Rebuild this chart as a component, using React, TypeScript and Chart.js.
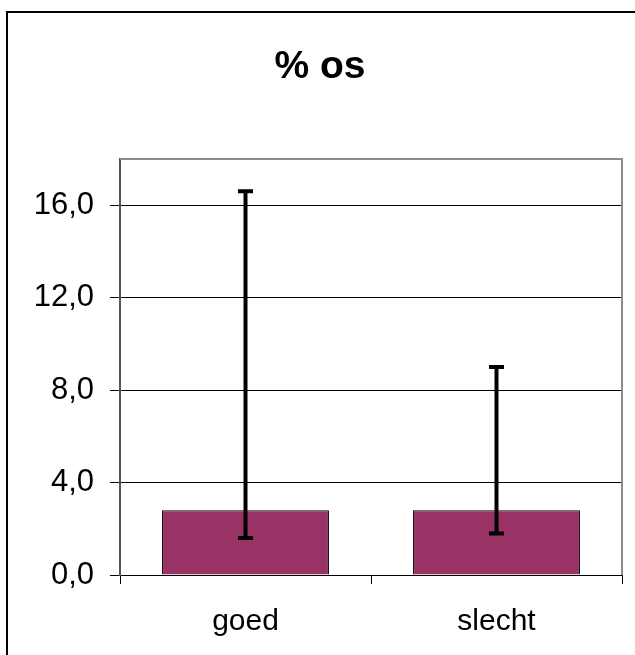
import React, { useEffect, useRef } from "react";
import { Chart, registerables } from "chart.js";

Chart.register(...registerables);

const title = "% os";
const categories = ["goed", "slecht"];
const values = [2.8, 2.8];
const errLow = [1.6, 1.8];
const errHigh = [16.6, 9.0];
const yMax = 18;
const yStep = 4;

const FONT = "'Liberation Sans', Arial, sans-serif";

const decorPlugin = {
  id: "decor",
  beforeDraw(chart: any) {
    const ctx = chart.ctx;
    ctx.save();
    ctx.fillStyle = "#fff";
    ctx.fillRect(0, 0, chart.width, chart.height);
    ctx.restore();
  },
  afterDraw(chart: any) {
    const ctx = chart.ctx;
    const ca = chart.chartArea;
    ctx.save();
    // outer frame
    ctx.strokeStyle = "#000";
    ctx.lineWidth = 2;
    ctx.beginPath();
    ctx.moveTo(7, chart.height + 5);
    ctx.lineTo(7, 12);
    ctx.lineTo(chart.width + 5, 12);
    ctx.stroke();
    // plot area top/right border
    ctx.strokeStyle = "#8c8c8c";
    ctx.lineWidth = 2;
    ctx.beginPath();
    ctx.moveTo(ca.left, ca.top);
    ctx.lineTo(ca.right, ca.top);
    ctx.lineTo(ca.right, ca.bottom);
    ctx.stroke();
    // title
    ctx.fillStyle = "#000";
    ctx.font = `bold 39px ${FONT}`;
    ctx.textAlign = "center";
    ctx.textBaseline = "alphabetic";
    ctx.fillText(title, 320, 78);
    // error bars
    const xs = chart.scales.x;
    const ys = chart.scales.y;
    ctx.strokeStyle = "#000";
    ctx.lineCap = "butt";
    categories.forEach((c, i) => {
      const x = xs.getPixelForValue(i);
      const yl = ys.getPixelForValue(errLow[i]);
      const yh = ys.getPixelForValue(errHigh[i]);
      ctx.lineWidth = 4;
      ctx.beginPath();
      ctx.moveTo(x, yl);
      ctx.lineTo(x, yh);
      ctx.stroke();
      ctx.beginPath();
      ctx.moveTo(x - 7.5, yl);
      ctx.lineTo(x + 7.5, yl);
      ctx.moveTo(x - 7.5, yh);
      ctx.lineTo(x + 7.5, yh);
      ctx.stroke();
    });
    ctx.restore();
  },
};

export default function App() {
  const ref = useRef<HTMLCanvasElement>(null);
  useEffect(() => {
    const chart = new Chart(ref.current!, {
      type: "bar",
      data: {
        labels: categories,
        datasets: [
          {
            data: values,
            backgroundColor: "#993366",
            borderColor: "#000",
            borderWidth: 1,
            barPercentage: 0.665,
            categoryPercentage: 1,
          },
        ],
      },
      options: {
        animation: false,
        responsive: false,
        layout: { padding: { left: 0, right: 13, top: 159, bottom: 0 } },
        plugins: { legend: { display: false }, tooltip: { enabled: false }, title: { display: false } },
        scales: {
          x: {
            offset: true,
            grid: {
              offset: true,
              drawOnChartArea: false,
              drawTicks: true,
              tickLength: 9,
              color: "#000",
              lineWidth: 1,
            },
            border: { display: true, color: "#000", width: 1 },
            ticks: {
              color: "#000",
              font: { family: FONT, size: 30 },
              padding: 20,
            },
            afterFit: (s: any) => {
              s.height = 80;
            },
          },
          y: {
            min: 0,
            max: yMax,
            grid: { color: "#000", lineWidth: 1, tickLength: 10, drawTicks: true },
            border: { display: true, color: "#555", width: 2 },
            ticks: {
              stepSize: yStep,
              color: "#000",
              padding: 16,
              font: { family: FONT, size: 31 },
              callback: (v: any) => Number(v).toFixed(1).replace(".", ","),
            },
            afterBuildTicks: (s: any) => {
              s.ticks = s.ticks.filter((t: any) => t.value % yStep === 0);
            },
            afterFit: (s: any) => {
              s.width = 120;
            },
          },
        },
      },
      plugins: [decorPlugin],
    });
    return () => chart.destroy();
  }, []);
  return (
    <div style={{ position: "fixed", left: 0, top: 0, width: 635, height: 655 }}>
      <canvas ref={ref} width={635} height={655} style={{ width: 635, height: 655, display: "block" }} />
    </div>
  );
}
